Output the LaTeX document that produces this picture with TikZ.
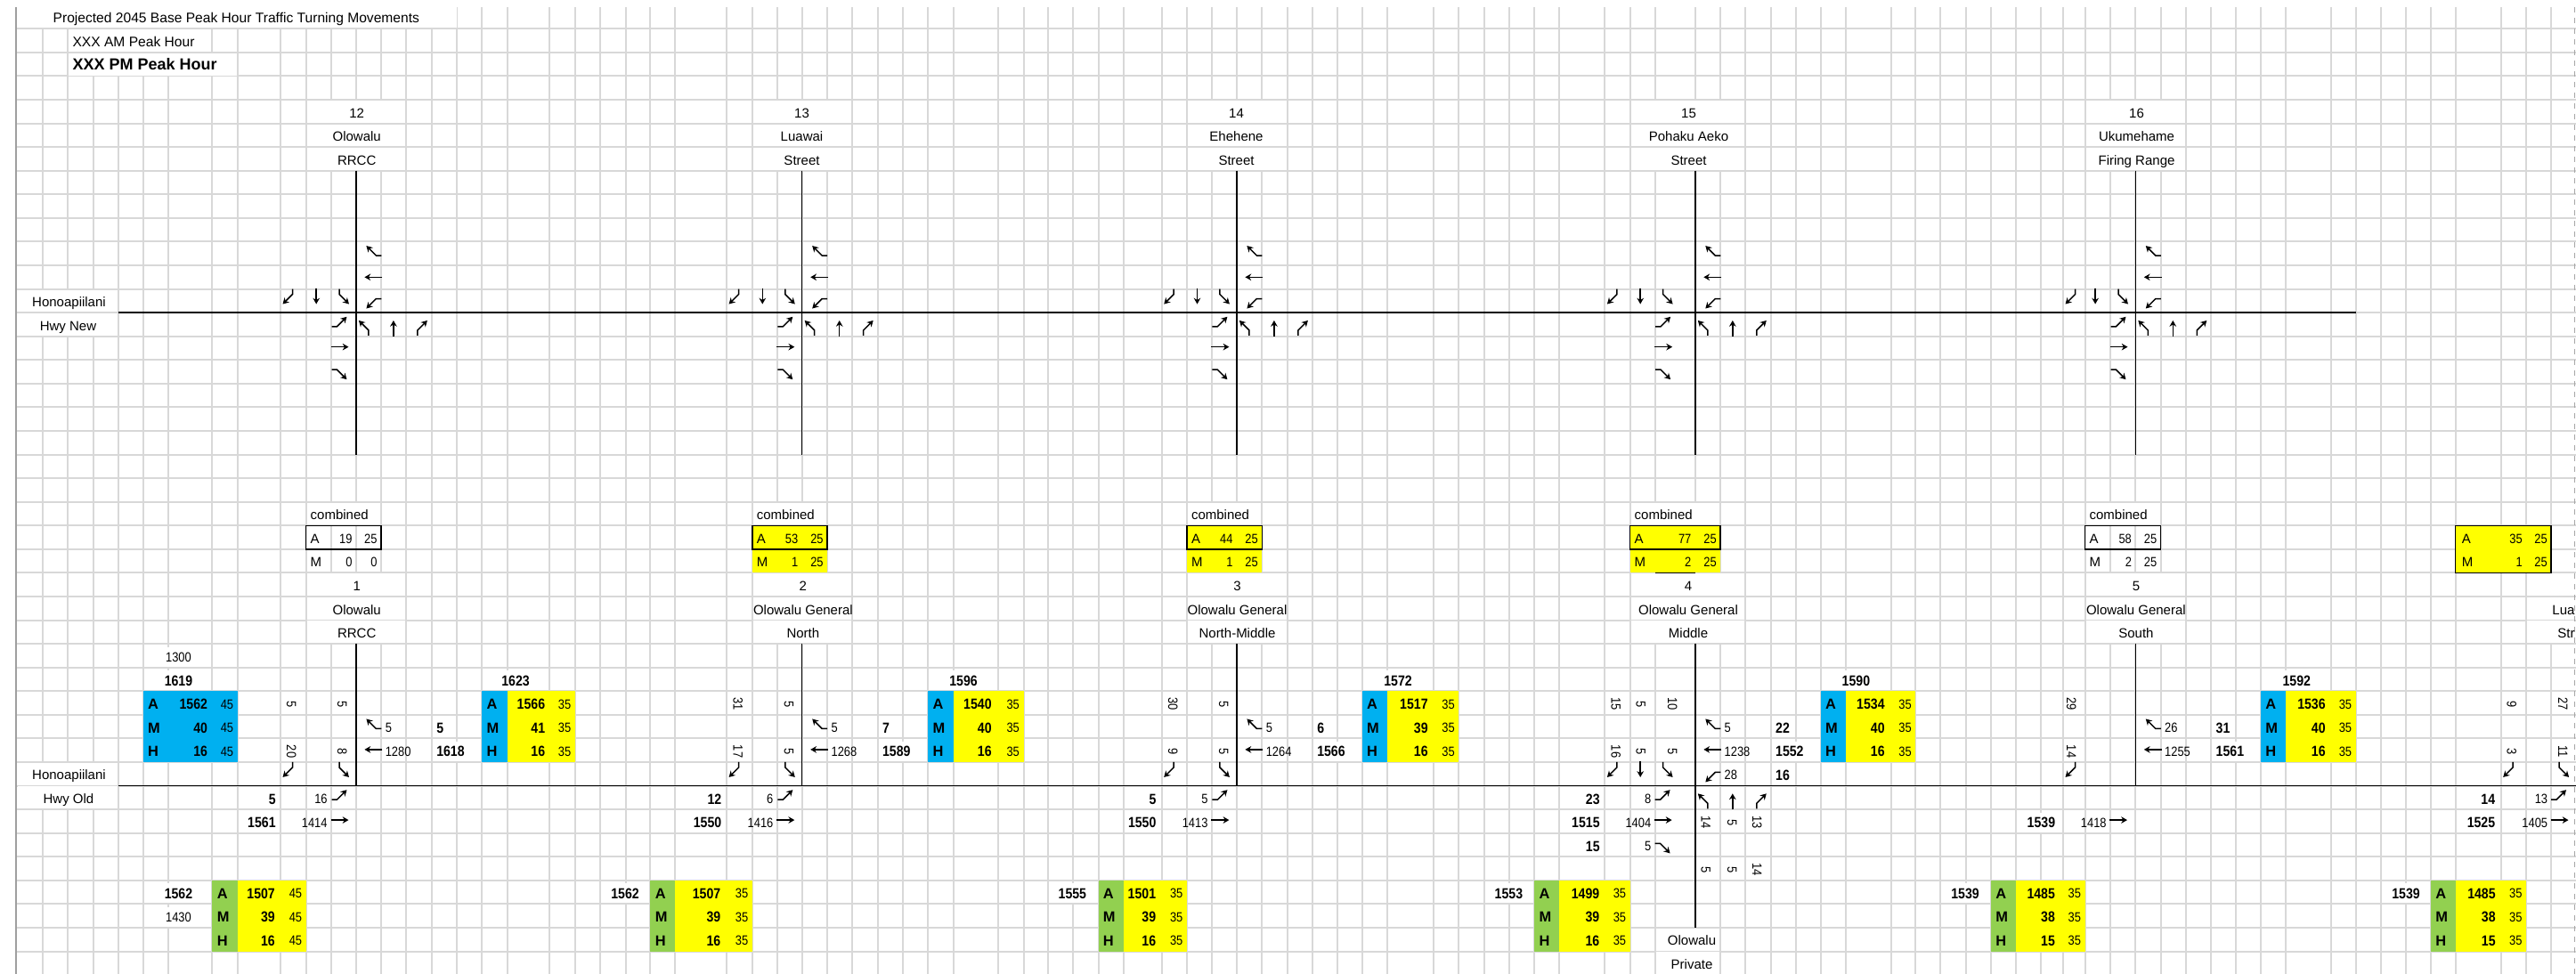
\documentclass[tikz,border=0pt]{standalone}
\usepackage{fontspec}
\setmainfont{Liberation Sans}
\newfontfamily\numf[FakeStretch=0.86]{Liberation Sans}
\usetikzlibrary{arrows.meta}

\definecolor{gridgray}{RGB}{216,216,216}
\definecolor{blu}{RGB}{0,176,240}
\definecolor{yel}{RGB}{255,255,0}
\definecolor{grn}{RGB}{146,208,80}

\tikzset{
  gridln/.style={draw=gridgray,line width=1pt},
  road/.style={line width=0.75pt},
  boxln/.style={line width=0.7pt},
  mvarr/.style={line width=0.75pt,-{Stealth[length=3.4pt,width=3.8pt]}},
  lab/.style={font=\fontsize{7.5}{8}\selectfont,inner sep=0pt,text height=5.4pt,text depth=0pt},
  num/.style={font=\numf\fontsize{7.5}{8}\selectfont,inner sep=0pt,text height=5.4pt,text depth=0pt},
  bnum/.style={font=\numf\bfseries\fontsize{8.2}{9}\selectfont,inner sep=0pt,text height=5.9pt,text depth=0pt},
  blet/.style={font=\bfseries\fontsize{8.2}{9}\selectfont,inner sep=0pt,text height=5.9pt,text depth=0pt},
  tot/.style={bnum,fill=white,minimum height=11pt},
}

% turning movement glyphs, centred at (x,row)
\newcommand{\mvSBR}[2]{\draw[mvarr] (#1,#2) ++(2.5pt,4pt) -- ++(0pt,-3pt) -- ++(-5.5pt,-5.5pt);}
\newcommand{\mvSBT}[2]{\draw[mvarr] (#1,#2) ++(0pt,4.5pt) -- ++(0pt,-9pt);}
\newcommand{\mvSBL}[2]{\draw[mvarr] (#1,#2) ++(-2.5pt,4pt) -- ++(0pt,-3pt) -- ++(5.5pt,-5.5pt);}
\newcommand{\mvWBR}[2]{\draw[mvarr] (#1,#2) ++(4.5pt,-2.5pt) -- ++(-3pt,0pt) -- ++(-5.5pt,5.5pt);}
\newcommand{\mvWBT}[2]{\draw[mvarr] (#1,#2) ++(5pt,0pt) -- ++(-10pt,0pt);}
\newcommand{\mvWBL}[2]{\draw[mvarr] (#1,#2) ++(4.5pt,2.5pt) -- ++(-3pt,0pt) -- ++(-5.5pt,-5.5pt);}
\newcommand{\mvEBL}[2]{\draw[mvarr] (#1,#2) ++(-4.5pt,-2.5pt) -- ++(3pt,0pt) -- ++(5.5pt,5.5pt);}
\newcommand{\mvEBT}[2]{\draw[mvarr] (#1,#2) ++(-5pt,0pt) -- ++(10pt,0pt);}
\newcommand{\mvEBR}[2]{\draw[mvarr] (#1,#2) ++(-4.5pt,2.5pt) -- ++(3pt,0pt) -- ++(5.5pt,-5.5pt);}
\newcommand{\mvNBL}[2]{\draw[mvarr] (#1,#2) ++(2.5pt,-4pt) -- ++(0pt,3pt) -- ++(-5.5pt,5.5pt);}
\newcommand{\mvNBT}[2]{\draw[mvarr] (#1,#2) ++(0pt,-4.5pt) -- ++(0pt,9pt);}
\newcommand{\mvNBR}[2]{\draw[mvarr] (#1,#2) ++(-2.5pt,-4pt) -- ++(0pt,3pt) -- ++(5.5pt,5.5pt);}

% A/M/H speed box: name, left, split, number end, right, top row, colours, rows
\newcommand{\amh}[9]{%
  \fill[#7] (#2,#6) rectangle (#3,#6+3);
  \fill[#8] (#3,#6) rectangle (#5,#6+3);
  \foreach \lt/\nv/\sv [count=\i from 0] in {#9}{%
    \node[blet,anchor=west] (#1l\i) at (#2+5,#6+\i+.55) {\lt};
    \node[bnum,anchor=east] (#1n\i) at (#4,#6+\i+.55) {\nv};
    \node[num,anchor=east] (#1s\i) at (#5-4.2,#6+\i+.55) {\sv};
  }}

\begin{document}
\begin{tikzpicture}[x=0.5pt,y=-13.285pt]
\useasboundingbox (0,-0.2157) rectangle (2893,40.958);

% sheet grid
\foreach \c in {47.8,76.2,104.5,132.8,160.7,189.1,238.4,266.7,315.0,343.7,372.0,399.9,427.9,456.2,484.5,512.8,541.1,569.5,617.1,645.8,674.1,702.5,730.4,758.3,816.1,844.8,872.8,900.7,929.0,957.3,985.7,1014.0,1042.3,1070.6,1120.5,1149.5,1176.8,1205.2,1233.5,1261.8,1304.7,1333.0,1360.9,1388.9,1417.2,1445.5,1473.8,1501.8,1529.7,1558.0,1610.1,1638.4,1666.7,1695.0,1723.3,1751.0,1802.4,1830.7,1858.6,1903.8,1932.1,1960.4,1988.8,2017.1,2044.6,2072.6,2123.5,2151.4,2179.3,2207.7,2236.0,2263.5,2291.9,2317.0,2341.6,2370.0,2398.3,2426.7,2454.7,2483.1,2511.0,2539.0,2567.0,2617.7,2645.7,2673.7,2701.7,2730.0,2757.6,2808.7,2837.1,2865.1}
  \draw[gridln] ({round(\c)},0.085) -- ({round(\c)},40.96);
\foreach \rw in {1,...,40}
  \draw[gridln] (18,{(round(5.73+26.57*\rw)-5.73)/26.57}) -- (2893,{(round(5.73+26.57*\rw)-5.73)/26.57});
\draw[draw=gray!75,line width=0.8pt] (18,0.085) -- (18,40.96);
\draw[draw=gray!70,line width=0.6pt,dashed] (2891.5,0.085) -- (2891.5,40.96);

% merged label cells
\fill[white] (19.5,0.035) rectangle (512.8,0.965);
\fill[white] (77.2,1.035) rectangle (237.4,1.965);
\fill[white] (77.2,2.035) rectangle (265.7,2.965);
\foreach \rw in {12,13,32,33} \fill[white] (19.5,\rw+.035) rectangle (131.8,\rw+.965);

\node[lab,anchor=west,font=\fontsize{7.8}{8}\selectfont] (title) at (59.3,0.55) {Projected 2045 Base Peak Hour Traffic Turning Movements};
\node[lab,anchor=west,font=\fontsize{7.8}{8}\selectfont] (amhr) at (81.1,1.55) {XXX AM Peak Hour};
\node[lab,anchor=west,font=\bfseries\fontsize{9}{10}\selectfont] (pmhr) at (81.1,2.55) {XXX PM Peak Hour};

\node[lab] (hnew1) at (77.5,12.55) {Honoapiilani};
\node[lab] (hnew2) at (76.5,13.55) {Hwy New};
\node[lab] (hold1) at (77.5,32.55) {Honoapiilani};
\node[lab] (hold2) at (77,33.55) {Hwy Old};

\draw[road] (132.8,13) -- (2645.7,13);
\draw[road] (132.8,33) -- (2893,33);

% new highway intersections 12 to 16
\foreach \k/\vx/\xa/\xb/\xc/\lx/\nm/\lone/\ltwo in {
  a/399.9/315.0/343.7/372.0/400.7/12/Olowalu/RRCC,
  b/900.7/816.1/844.8/872.8/900.5/13/Luawai/Street,
  c/1388.9/1304.7/1333.0/1360.9/1388.5/14/Ehehene/Street,
  d/1903.8/1802.4/1830.7/1858.6/1896.5/15/Pohaku Aeko/Street,
  e/2398.3/2317.0/2341.6/2370.0/2399.5/16/Ukumehame/Firing Range}{
  \foreach \rw in {4,5,6} \fill[white] (\xb+1,\rw+.035) rectangle (\vx+55.4,\rw+.965);
  \node[lab] (top\k-n) at (\lx,4.55) {\nm};
  \node[lab] (top\k-s) at (\lx,5.55) {\lone};
  \node[lab] (top\k-t) at (\lx,6.55) {\ltwo};
  \draw[road] (\vx,7) -- (\vx,19);
  \mvSBR{\xa+8.5}{12.3} \mvSBT{\xb+11.5}{12.3} \mvSBL{\xc+14}{12.3}
  \mvWBR{\vx+19.5}{10.4} \mvWBT{\vx+19.5}{11.5} \mvWBL{\vx+19.5}{12.6}
  \mvEBL{\xc+9.5}{13.4} \mvEBT{\xc+9.5}{14.45} \mvEBR{\xc+9.5}{15.6}
  \mvNBL{\vx+9}{13.67} \mvNBT{\vx+42}{13.67} \mvNBR{\vx+74}{13.67}
}

% old highway intersections 1 to 5
\foreach \k/\lx/\wa/\wb/\nm/\lone/\ltwo in {
  a/400.7/343.7/456.2/1/Olowalu/RRCC,
  b/901.9/844.8/957.3/2/Olowalu General/North,
  c/1389.5/1333.0/1445.5/3/Olowalu General/North-Middle,
  d/1896/1830.7/1960.4/4/Olowalu General/Middle,
  e/2398.9/2341.6/2454.7/5/Olowalu General/South}{
  \foreach \rw in {24,25,26} \fill[white] (\wa+1,\rw+.035) rectangle (\wb-1,\rw+.965);
  \node[lab] (low\k-n) at (\lx,24.55) {\nm};
  \node[lab] (low\k-s) at (\lx,25.55) {\lone};
  \node[lab] (low\k-t) at (\lx,26.55) {\ltwo};
}
\foreach \rw in {24,25,26} \fill[white] (2838.1,\rw+.035) rectangle (2890.5,\rw+.965);
\node[lab,anchor=west] (lowf-s) at (2866,25.55) {Lua};
\node[lab,anchor=west] (lowf-t) at (2872,26.55) {Str};
\foreach \vx in {399.9,900.7,1388.9,2398.3} \draw[road] (\vx,27) -- (\vx,33);
\draw[road] (1903.8,27) -- (1903.8,39);

% combined boxes
\foreach \k/\xa/\xb/\xc/\xd/\av/\as/\mv/\ms/\fc in {
  a/343.7/372.0/399.9/427.9/19/25/0/0/none,
  b/844.8/872.8/900.7/929.0/53/25/1/25/yel,
  c/1333.0/1360.9/1388.9/1417.2/44/25/1/25/yel,
  d/1830.7/1858.6/1903.8/1932.1/77/25/2/25/yel,
  e/2341.6/2370.0/2398.3/2426.7/58/25/2/25/none}{
  \fill[white] (\xa+1,21.035) rectangle (\xd-1,21.965);
  \node[lab,anchor=west] (cmb\k) at (\xa+4.6,21.55) {combined};
  \path[fill=\fc] (\xa,22) rectangle (\xd,24);
  \draw[boxln] (\xa,22) rectangle (\xd,23);
  \node[lab,anchor=west] (cmb\k-a) at (\xa+4.6,22.55) {A};
  \node[num,anchor=east] (cmb\k-av) at (\xc-4,22.55) {\av};
  \node[num,anchor=east] (cmb\k-as) at (\xd-4,22.55) {\as};
  \node[lab,anchor=west] (cmb\k-m) at (\xa+4.6,23.55) {M};
  \node[num,anchor=east] (cmb\k-mv) at (\xc-4,23.55) {\mv};
  \node[num,anchor=east] (cmb\k-ms) at (\xd-4,23.55) {\ms};
}
\draw[line width=0.6pt] (1858.6,24) -- (1903.8,24);
\fill[yel] (2757.6,22) rectangle (2865.1,24);
\draw[boxln] (2757.6,22) rectangle (2865.1,24);
\node[lab,anchor=west] (cmbf-a) at (2764.4,22.55) {A};
\node[num,anchor=east] (cmbf-av) at (2833.1,22.55) {35};
\node[num,anchor=east] (cmbf-as) at (2861.1,22.55) {25};
\node[lab,anchor=west] (cmbf-m) at (2764.4,23.55) {M};
\node[num,anchor=east] (cmbf-mv) at (2833.1,23.55) {1};
\node[num,anchor=east] (cmbf-ms) at (2861.1,23.55) {25};

% speed boxes
\amh{wa}{160.7}{189.1}{233.4}{266.7}{29}{blu}{blu}{A/1562/45,M/40/45,H/16/45}
\amh{ea}{541.1}{569.5}{612.5}{645.8}{29}{blu}{yel}{A/1566/35,M/41/35,H/16/35}
\amh{wb}{238.4}{266.7}{309.2}{343.7}{37}{grn}{yel}{A/1507/45,M/39/45,H/16/45}
\amh{eb}{1042.3}{1070.6}{1114}{1149.5}{29}{blu}{yel}{A/1540/35,M/40/35,H/16/35}
\amh{wc}{730.4}{758.3}{809.6}{844.8}{37}{grn}{yel}{A/1507/35,M/39/35,H/16/35}
\amh{ec}{1529.7}{1558.0}{1604}{1638.4}{29}{blu}{yel}{A/1517/35,M/39/35,H/16/35}
\amh{wd}{1233.5}{1261.8}{1298.5}{1333.0}{37}{grn}{yel}{A/1501/35,M/39/35,H/16/35}
\amh{ed}{2044.6}{2072.6}{2117}{2151.4}{29}{blu}{yel}{A/1534/35,M/40/35,H/16/35}
\amh{we}{1723.3}{1751.0}{1796.6}{1830.7}{37}{grn}{yel}{A/1499/35,M/39/35,H/16/35}
\amh{ee}{2539.0}{2567.0}{2612}{2645.7}{29}{blu}{yel}{A/1536/35,M/40/35,H/16/35}
\amh{wf}{2236.0}{2263.5}{2308.3}{2341.6}{37}{grn}{yel}{A/1485/35,M/38/35,H/15/35}
\amh{wg}{2730.0}{2757.6}{2803}{2837.1}{37}{grn}{yel}{A/1485/35,M/38/35,H/15/35}

% intersection 1
\node[num,fill=white,minimum height=11pt] (a1300) at (200.5,27.55) {1300};
\node[tot] (a1619) at (200.5,28.55) {1619};
\node[num,rotate=-90] (ar1) at (327.5,29.55) {5};
\node[num,rotate=-90] (ar2) at (384.5,29.55) {5};
\node[num,rotate=-90] (ar3) at (327.5,31.55) {20};
\node[num,rotate=-90] (ar4) at (384.5,31.55) {8};
\mvSBR{323.5}{32.3} \mvSBL{386}{32.3}
\mvWBR{419.4}{30.4} \mvWBT{419.4}{31.47}
\node[num,anchor=west] (awr) at (432.4,30.55) {5};
\node[tot,anchor=west] (awr2) at (489.9,30.55) {5};
\node[num,anchor=west] (awt) at (432.4,31.55) {1280};
\node[tot,anchor=west] (awt2) at (489.9,31.55) {1618};
\node[tot] (aeast) at (579,28.55) {1623};
\node[tot,anchor=east] (ael2) at (310,33.55) {5};
\node[num,anchor=east] (ael) at (368,33.55) {16};
\node[tot,anchor=east] (aet2) at (310,34.55) {1561};
\node[num,anchor=east] (aet) at (368,34.55) {1414};
\mvEBL{381.5}{33.4} \mvEBT{381.5}{34.45}
\node[tot] (a1562) at (200.5,37.55) {1562};
\node[num,fill=white,minimum height=11pt] (a1430) at (200.5,38.55) {1430};

% intersection 2
\node[num,rotate=-90] (br1) at (829,29.55) {31};
\node[num,rotate=-90] (br2) at (886.3,29.55) {5};
\node[num,rotate=-90] (br3) at (829,31.55) {17};
\node[num,rotate=-90] (br4) at (886.3,31.55) {5};
\mvSBR{824.6}{32.3} \mvSBL{886.8}{32.3}
\mvWBR{920.2}{30.4} \mvWBT{920.2}{31.47}
\node[num,anchor=west] (bwr) at (933.2,30.55) {5};
\node[tot,anchor=west] (bwr2) at (990.7,30.55) {7};
\node[num,anchor=west] (bwt) at (933.2,31.55) {1268};
\node[tot,anchor=west] (bwt2) at (990.7,31.55) {1589};
\node[tot] (beast) at (1082,28.55) {1596};
\node[tot,anchor=east] (bel2) at (810.6,33.55) {12};
\node[num,anchor=east] (bel) at (868.8,33.55) {6};
\node[tot,anchor=east] (bet2) at (810.6,34.55) {1550};
\node[num,anchor=east] (bet) at (868.8,34.55) {1416};
\mvEBL{882.3}{33.4} \mvEBT{882.3}{34.45}
\node[tot] (b1562) at (702,37.55) {1562};

% intersection 3
\node[num,rotate=-90] (cr1) at (1317.5,29.55) {30};
\node[num,rotate=-90] (cr2) at (1374.5,29.55) {5};
\node[num,rotate=-90] (cr3) at (1317.5,31.55) {9};
\node[num,rotate=-90] (cr4) at (1374.5,31.55) {5};
\mvSBR{1313.2}{32.3} \mvSBL{1374.9}{32.3}
\mvWBR{1408.4}{30.4} \mvWBT{1408.4}{31.47}
\node[num,anchor=west] (cwr) at (1421.4,30.55) {5};
\node[tot,anchor=west] (cwr2) at (1478.9,30.55) {6};
\node[num,anchor=west] (cwt) at (1421.4,31.55) {1264};
\node[tot,anchor=west] (cwt2) at (1478.9,31.55) {1566};
\node[tot] (ceast) at (1570,28.55) {1572};
\node[tot,anchor=east] (cel2) at (1298.8,33.55) {5};
\node[num,anchor=east] (cel) at (1356.9,33.55) {5};
\node[tot,anchor=east] (cet2) at (1298.8,34.55) {1550};
\node[num,anchor=east] (cet) at (1356.9,34.55) {1413};
\mvEBL{1370.4}{33.4} \mvEBT{1370.4}{34.45}
\node[tot] (c1555) at (1204.4,37.55) {1555};

% intersection 4
\node[num,rotate=-90] (dr1) at (1815,29.55) {15};
\node[num,rotate=-90] (dr2) at (1843,29.55) {5};
\node[num,rotate=-90] (dr3) at (1878.5,29.55) {10};
\node[num,rotate=-90] (dr4) at (1815,31.55) {16};
\node[num,rotate=-90] (dr5) at (1843,31.55) {5};
\node[num,rotate=-90] (dr6) at (1878.5,31.55) {5};
\mvSBR{1810.9}{32.3} \mvSBT{1842.2}{32.3} \mvSBL{1872.6}{32.3}
\mvWBR{1923.3}{30.4} \mvWBT{1923.3}{31.47} \mvWBL{1923.3}{32.62}
\node[num,anchor=west] (dwr) at (1936.3,30.55) {5};
\node[tot,anchor=west] (dwr2) at (1993.8,30.55) {22};
\node[num,anchor=west] (dwt) at (1936.3,31.55) {1238};
\node[tot,anchor=west] (dwt2) at (1993.8,31.55) {1552};
\node[num,anchor=west] (dwl) at (1936.3,32.55) {28};
\node[tot,anchor=west] (dwl2) at (1993.8,32.55) {16};
\node[tot] (deast) at (2084.4,28.55) {1590};
\node[tot,anchor=east] (del2) at (1797,33.55) {23};
\node[num,anchor=east] (del) at (1854.6,33.55) {8};
\node[tot,anchor=east] (det2) at (1797,34.55) {1515};
\node[num,anchor=east] (det) at (1854.6,34.55) {1404};
\node[tot,anchor=east] (der2) at (1797,35.55) {15};
\node[num,anchor=east] (der) at (1854.6,35.55) {5};
\mvEBL{1867.6}{33.4} \mvEBT{1867.6}{34.45} \mvEBR{1867.6}{35.63}
\mvNBL{1912.8}{33.67} \mvNBT{1945.8}{33.67} \mvNBR{1977.8}{33.67}
\node[num,rotate=-90] (ds1) at (1916,34.55) {14};
\node[num,rotate=-90] (ds2) at (1945.5,34.55) {5};
\node[num,rotate=-90] (ds3) at (1973.4,34.55) {13};
\node[num,rotate=-90] (ds4) at (1916,36.55) {5};
\node[num,rotate=-90] (ds5) at (1945.5,36.55) {5};
\node[num,rotate=-90] (ds6) at (1973.4,36.55) {14};
\node[tot] (d1553) at (1694.4,37.55) {1553};
\foreach \rw in {39,40} \fill[white] (1859.6,\rw+.035) rectangle (1931.1,\rw+.965);
\node[lab] (dsouth1) at (1900,39.55) {Olowalu};
\node[lab] (dsouth2) at (1900,40.55) {Private};

% intersection 5
\node[num,rotate=-90] (er1) at (2326.5,29.55) {29};
\node[num,rotate=-90] (er3) at (2326.5,31.55) {14};
\mvSBR{2325.5}{32.3}
\mvWBR{2417.8}{30.4} \mvWBT{2417.8}{31.47}
\node[num,anchor=west] (ewr) at (2430.8,30.55) {26};
\node[tot,anchor=west] (ewr2) at (2488.3,30.55) {31};
\node[num,anchor=west] (ewt) at (2430.8,31.55) {1255};
\node[tot,anchor=west] (ewt2) at (2488.3,31.55) {1561};
\node[tot] (eeast) at (2579.3,28.55) {1592};
\node[tot,anchor=east] (eet2) at (2308.5,34.55) {1539};
\node[num,anchor=east] (eet) at (2366,34.55) {1418};
\mvEBT{2379}{34.45}
\node[tot] (e1539) at (2207,37.55) {1539};

% intersection 6, cut by the sheet edge
\node[num,rotate=-90] (fr1) at (2821,29.55) {9};
\node[num,rotate=-90] (fr2) at (2878.6,29.55) {27};
\node[num,rotate=-90] (fr3) at (2821,31.55) {3};
\node[num,rotate=-90] (fr4) at (2878.6,31.55) {11};
\mvSBR{2817.2}{32.3} \mvSBL{2879.1}{32.3}
\node[tot,anchor=east] (fel2) at (2802.5,33.55) {14};
\node[num,anchor=east] (fel) at (2861.5,33.55) {13};
\node[tot,anchor=east] (fet2) at (2802.5,34.55) {1525};
\node[num,anchor=east] (fet) at (2861.5,34.55) {1405};
\mvEBL{2874}{33.4} \mvEBT{2874.5}{34.45}
\node[tot] (f1539) at (2702,37.55) {1539};
\end{tikzpicture}
\end{document}
